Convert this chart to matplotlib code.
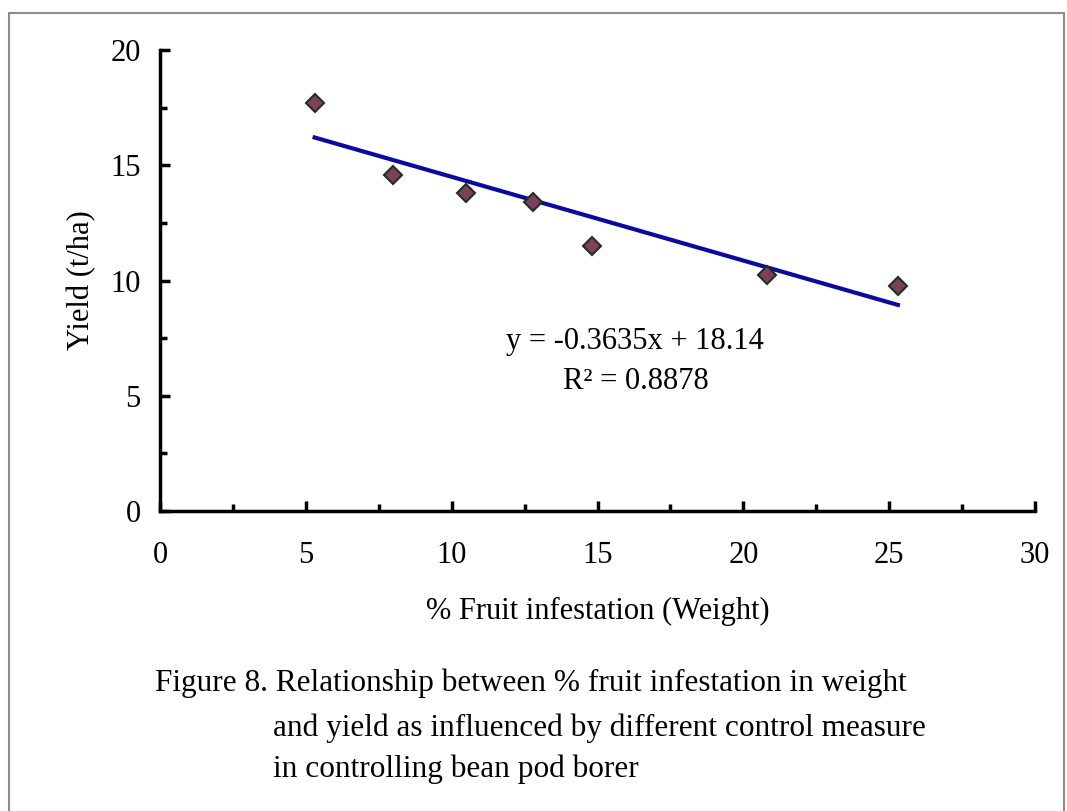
import matplotlib
matplotlib.use('Agg')
import matplotlib.pyplot as plt
from matplotlib.patches import Rectangle
from matplotlib.ticker import MultipleLocator

# infestation (% by weight) vs yield (t/ha)
infestation = [5.3, 8.0, 10.5, 12.8, 14.8, 20.8, 25.3]
yield_tha = [17.7, 14.6, 13.8, 13.4, 11.5, 10.25, 9.75]

# linear trend shown on the chart
slope = -0.3635
intercept = 18.14
r2 = 0.8878

plt.rcParams['font.family'] = ['Liberation Serif', 'DejaVu Serif']

fig = plt.figure(figsize=(10.67, 8.11), dpi=100)
ax = fig.add_axes([0.150, 0.370, 0.820, 0.568])

# trend line over the data range
x0, x1 = min(infestation), max(infestation)
ax.plot([x0, x1], [slope * x0 + intercept, slope * x1 + intercept],
        color='#0a0a9c', linewidth=3, zorder=2)

ax.plot(infestation, yield_tha, linestyle='none', marker='D', markersize=9,
        markerfacecolor='#7e3f58', markeredgecolor='#1f2f22', markeredgewidth=1.5, zorder=3)

ax.set_xlim(0, 30)
ax.set_ylim(0, 20)
ax.xaxis.set_major_locator(MultipleLocator(5))
ax.xaxis.set_minor_locator(MultipleLocator(2.5))
ax.yaxis.set_major_locator(MultipleLocator(5))
ax.yaxis.set_minor_locator(MultipleLocator(2.5))

for side in ['top', 'right']:
    ax.spines[side].set_visible(False)
for side in ['left', 'bottom']:
    ax.spines[side].set_linewidth(2.5)

ax.tick_params(which='major', direction='in', length=7, width=2.5, labelsize=22)
ax.tick_params(which='minor', direction='in', length=5, width=2.5)
ax.tick_params(axis='x', which='major', pad=22)
ax.tick_params(axis='y', which='major', pad=14)

ax.set_xlabel('% Fruit infestation (Weight)', fontsize=22, labelpad=19)
ax.set_ylabel('Yield (t/ha)', fontsize=22, labelpad=10)

ax.text(16.3, 7.35, f'y = {slope}x + {intercept}', fontsize=22, ha='center', va='center')
ax.text(16.3, 5.6, f'R² = {r2}', fontsize=22, ha='center', va='center')

# caption under the chart
fig.text(0.145, 0.158, 'Figure 8. Relationship between % fruit infestation in weight',
         fontsize=22.5, ha='left', va='center')
fig.text(0.256, 0.102, 'and yield as influenced by different control measure',
         fontsize=22.5, ha='left', va='center')
fig.text(0.256, 0.052, 'in controlling bean pod borer',
         fontsize=22.5, ha='left', va='center')

# thin grey frame around the whole picture
fig.patches.append(Rectangle((0.008, -0.01), 0.989, 0.994, transform=fig.transFigure,
                             fill=False, edgecolor='#8c8c8c', linewidth=1.5))

fig.savefig('out.png', dpi=100)
